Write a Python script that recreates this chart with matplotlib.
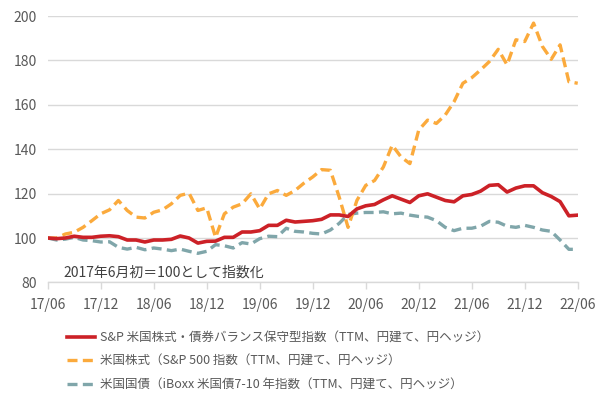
import matplotlib
matplotlib.use("Agg")
import matplotlib.pyplot as plt
from matplotlib.lines import Line2D

plt.rcParams['font.family'] = ['Noto Sans CJK JP', 'DejaVu Sans']

tick_labels = ["17/06", "17/12", "18/06", "18/12", "19/06", "19/12",
               "20/06", "20/12", "21/06", "21/12", "22/06"]

balanced = [100, 99.7, 100, 100.8, 100.3, 100.3, 100.8, 101, 100.6, 99.1,
            99.1, 98.2, 99.1, 99.1, 99.4, 100.9, 100, 97.7, 98.5, 98.6,
            100.3, 100.3, 102.7, 102.7, 103.3, 105.7, 105.7, 108, 107.2, 107.5,
            107.8, 108.4, 110.4, 110.4, 109.7, 113.1, 114.5, 115.1, 117.2, 119,
            117.5, 116, 119, 119.9, 118.4, 116.9, 116.3, 119, 119.6, 121.1,
            123.7, 124, 120.7, 122.5, 123.5, 123.5, 120.4, 118.7, 116.4, 110,
            110.3]

sp500 = [100, 100, 101.8, 102.6, 104.8, 107.8, 110.9, 112.7, 116.9, 112.4,
         109.4, 109, 111.6, 112.7, 115.4, 119.2, 120.2, 112.4, 113.6, 100.3,
         110.9, 113.9, 115.4, 119.9, 113.1, 119.9, 121.4, 119.2, 121.4, 124.7,
         127.5, 130.8, 130.5, 118.4, 104.8, 116.9, 123.7, 125.9, 132, 141.8,
         136.5, 133.5, 148.6, 153.1, 151.6, 155.4, 161.4, 169.7, 172.2, 175.7,
         179.5, 185, 178, 189.3, 188.5, 196.8, 186.3, 180.5, 187, 170.4,
         169.7]

treasury = [100, 99.1, 99.5, 100.3, 99.1, 98.8, 98.2, 98.3, 95.8, 95,
            95.8, 94.7, 95.5, 95, 94.3, 95, 94, 93.1, 94, 97,
            96.5, 95.5, 97.9, 97.3, 99.7, 100.8, 100.6, 104.4, 103, 102.7,
            102.1, 101.8, 103.6, 106.6, 110.6, 111.2, 111.5, 111.5, 111.8, 110.9,
            111.2, 110.3, 109.7, 109.4, 107.8, 104.8, 103.3, 104.4, 104.4, 105.3,
            107.5, 107.1, 105.3, 104.8, 105.7, 104.8, 103.6, 103, 99.1, 94.9,
            94.9]

labels = ["S&P 米国株式・債券バランス保守型指数（TTM、円建て、円ヘッジ）",
          "米国株式（S&P 500 指数（TTM、円建て、円ヘッジ）",
          "米国国債（iBoxx 米国債7-10 年指数（TTM、円建て、円ヘッジ）"]
annotation = "2017年6月初＝100として指数化"

c_red = "#CC2127"
c_orange = "#FBAA3C"
c_teal = "#80A6AA"
txt = "#595959"
grid_c = "#D9D9D9"

fig = plt.figure(figsize=(6.04, 4.0), dpi=100)
ax = fig.add_axes([0.079, 0.294, 0.8775, 0.666])

x = list(range(len(balanced)))
lw = 2.4
ax.plot(x, treasury, color=c_teal, lw=lw, dashes=(3, 1.6), zorder=3)
ax.plot(x, sp500, color=c_orange, lw=lw, dashes=(3, 1.6), zorder=4)
ax.plot(x, balanced, color=c_red, lw=2.6, zorder=5, solid_joinstyle='round')

ax.set_xlim(0, 60)
ax.set_ylim(80, 200)
ax.set_yticks(range(80, 201, 20))
ax.set_xticks(range(0, 61, 6))
ax.set_xticklabels(tick_labels)
ax.grid(axis='y', color=grid_c, lw=1)
ax.set_axisbelow(True)
for s in ['left', 'right', 'top']:
    ax.spines[s].set_visible(False)
ax.spines['bottom'].set_color(grid_c)
ax.spines['bottom'].set_linewidth(1)
ax.tick_params(axis='y', length=0, labelsize=10, labelcolor=txt, pad=8)
ax.tick_params(axis='x', length=5, color=grid_c, width=1, labelsize=10,
               labelcolor=txt, pad=6)

ax.text(1.75, 84.2, annotation, fontsize=10, color="#404040", va='center', ha='left')

handles = [Line2D([], [], color=c_red, lw=2.6),
           Line2D([], [], color=c_orange, lw=lw, dashes=(3, 1.6)),
           Line2D([], [], color=c_teal, lw=lw, dashes=(3, 1.6))]
leg = fig.legend(handles, labels, loc='upper left', bbox_to_anchor=(0.111, 0.172),
                 frameon=False, fontsize=9, handlelength=2.24, handletextpad=0.4,
                 labelspacing=0.85, borderaxespad=0, borderpad=0)
for t in leg.get_texts():
    t.set_color(txt)

fig.savefig("out.png", dpi=100)
